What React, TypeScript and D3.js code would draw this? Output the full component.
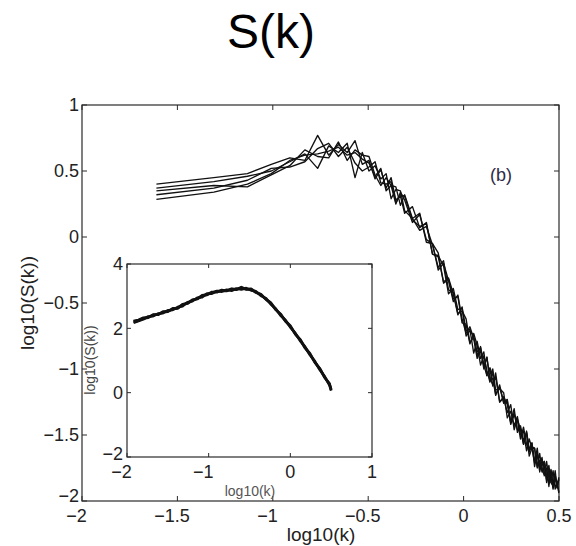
import React from "react";
import * as d3 from "d3";

// ---- main plot data: log10(k) positions and five curves of log10(S(k)) ----
const mainLogK = [
  -1.61, -1.309, -1.133, -1.008, -0.911, -0.832, -0.765, -0.707, -0.656, -0.61,
  -0.569, -0.531, -0.496, -0.464, -0.434, -0.406, -0.38, -0.355, -0.331, -0.309,
  -0.268, -0.23, -0.195, -0.163, -0.133, -0.105, -0.079, -0.054, -0.03, -0.008,
  0.013, 0.033, 0.053, 0.071, 0.089, 0.106, 0.122, 0.138, 0.153, 0.168,
  0.189, 0.21, 0.229, 0.247, 0.265, 0.282, 0.298, 0.314, 0.33, 0.344,
  0.358, 0.372, 0.386, 0.399, 0.411, 0.423, 0.435, 0.447, 0.458, 0.469,
  0.48, 0.49, 0.499,
];

const seriesA = [
  0.40, 0.45, 0.48, 0.55, 0.60, 0.58, 0.77, 0.62, 0.70, 0.64,
  0.73, 0.55, 0.58, 0.44, 0.51, 0.37, 0.45, 0.28, 0.31, 0.18,
  0.23, 0.07, 0.11, -0.13, -0.15, -0.34, -0.31, -0.43, -0.59, -0.53,
  -0.71, -0.70, -0.88, -0.79, -0.92, -0.87, -1.05, -1.00, -1.13, -1.03,
  -1.25, -1.22, -1.33, -1.27, -1.46, -1.38, -1.46, -1.57, -1.47, -1.61,
  -1.56, -1.74, -1.64, -1.73, -1.67, -1.81, -1.75, -1.89, -1.77, -1.88,
  -1.77, -1.90, -1.83,
];
const seriesB = [
  0.37, 0.42, 0.46, 0.50, 0.57, 0.63, 0.52, 0.69, 0.64, 0.71,
  0.45, 0.64, 0.50, 0.54, 0.44, 0.48, 0.29, 0.36, 0.35, 0.20,
  0.14, 0.18, -0.04, -0.05, -0.12, -0.35, -0.32, -0.47, -0.45, -0.65,
  -0.66, -0.81, -0.73, -0.82, -0.97, -0.90, -1.01, -1.10, -1.00, -1.16,
  -1.15, -1.18, -1.37, -1.32, -1.43, -1.36, -1.50, -1.47, -1.62, -1.53,
  -1.60, -1.71, -1.60, -1.76, -1.73, -1.70, -1.86, -1.77, -1.86, -1.77,
  -1.91, -1.85, -1.94,
];
const seriesC = [
  0.35, 0.39, 0.38, 0.47, 0.54, 0.66, 0.61, 0.60, 0.72, 0.58,
  0.66, 0.62, 0.61, 0.47, 0.39, 0.45, 0.39, 0.25, 0.34, 0.28,
  0.11, 0.17, -0.02, -0.05, -0.25, -0.20, -0.33, -0.49, -0.44, -0.62,
  -0.73, -0.68, -0.77, -0.92, -0.86, -0.98, -0.91, -1.09, -1.07, -1.20,
  -1.12, -1.26, -1.24, -1.41, -1.35, -1.39, -1.53, -1.44, -1.57, -1.63,
  -1.56, -1.69, -1.65, -1.78, -1.69, -1.74, -1.84, -1.73, -1.86, -1.89,
  -1.80, -1.89, -1.84,
];
const seriesD = [
  0.32, 0.37, 0.43, 0.52, 0.53, 0.57, 0.67, 0.71, 0.61, 0.68,
  0.56, 0.50, 0.53, 0.57, 0.41, 0.40, 0.42, 0.26, 0.32, 0.31,
  0.13, 0.08, 0.10, -0.13, -0.14, -0.22, -0.43, -0.39, -0.55, -0.54,
  -0.75, -0.71, -0.75, -0.90, -0.83, -0.97, -1.05, -0.99, -1.05, -1.19,
  -1.14, -1.25, -1.23, -1.42, -1.33, -1.46, -1.45, -1.57, -1.48, -1.62,
  -1.59, -1.60, -1.75, -1.69, -1.78, -1.70, -1.80, -1.86, -1.76, -1.90,
  -1.83, -1.86, -1.93,
];
const seriesE = [
  0.285, 0.34, 0.40, 0.48, 0.58, 0.62, 0.63, 0.65, 0.68, 0.62,
  0.64, 0.59, 0.56, 0.46, 0.52, 0.35, 0.39, 0.38, 0.24, 0.32,
  0.14, 0.05, 0.08, -0.06, -0.23, -0.18, -0.40, -0.42, -0.58, -0.56,
  -0.62, -0.80, -0.76, -0.87, -0.84, -1.00, -0.91, -1.07, -1.12, -1.06,
  -1.25, -1.21, -1.27, -1.40, -1.30, -1.48, -1.43, -1.54, -1.49, -1.66,
  -1.60, -1.60, -1.74, -1.64, -1.77, -1.80, -1.70, -1.83, -1.78, -1.91,
  -1.82, -1.90, -1.82,
];
const mainSeries = [seriesA, seriesB, seriesC, seriesD, seriesE];

const mainXTicks = [-2, -1.5, -1, -0.5, 0, 0.5];
const mainXTickLabels = ["−2", "−1.5", "−1", "−0.5", "0", "0.5"];
const mainYTicks = [-2, -1.5, -1, -0.5, 0, 0.5, 1];
const mainYTickLabels = ["−2", "−1.5", "−1", "−0.5", "0", "0.5", "1"];

// ---- inset data ----
const insetLogK = [
  -1.92, -1.86, -1.8, -1.74, -1.68, -1.62, -1.56, -1.5, -1.44, -1.38,
  -1.32, -1.26, -1.2, -1.14, -1.08, -1.02, -0.96, -0.9, -0.84, -0.78,
  -0.72, -0.66, -0.6, -0.54, -0.48, -0.42, -0.36, -0.3, -0.24, -0.18,
  -0.12, -0.06, 0.0, 0.06, 0.12, 0.18, 0.24, 0.3, 0.36, 0.42,
  0.48, 0.5,
];
const inset1 = [
  2.23, 2.26, 2.33, 2.34, 2.43, 2.42, 2.52, 2.53, 2.62, 2.63,
  2.75, 2.78, 2.89, 2.92, 3.03, 3.05, 3.13, 3.12, 3.19, 3.17,
  3.23, 3.21, 3.28, 3.22, 3.23, 3.12, 3.06, 2.91, 2.8, 2.59,
  2.45, 2.23, 2.08, 1.83, 1.66, 1.4, 1.22, 0.95, 0.76, 0.48,
  0.28, 0.08,
];
const inset2 = [
  2.17, 2.23, 2.28, 2.37, 2.38, 2.46, 2.47, 2.56, 2.57, 2.66,
  2.69, 2.81, 2.84, 2.95, 2.97, 3.08, 3.08, 3.16, 3.14, 3.2,
  3.17, 3.24, 3.21, 3.25, 3.18, 3.15, 3.01, 2.94, 2.75, 2.62,
  2.4, 2.26, 2.03, 1.86, 1.61, 1.43, 1.17, 0.98, 0.71, 0.51,
  0.23, 0.06,
];
const inset3 = [
  2.21, 2.24, 2.31, 2.33, 2.41, 2.44, 2.5, 2.52, 2.6, 2.62,
  2.73, 2.77, 2.87, 2.91, 3.01, 3.04, 3.11, 3.15, 3.17, 3.16,
  3.22, 3.2, 3.26, 3.21, 3.21, 3.11, 3.04, 2.9, 2.78, 2.58,
  2.43, 2.22, 2.06, 1.82, 1.64, 1.39, 1.2, 0.94, 0.74, 0.47,
  0.26, 0.1,
];
const insetSeries = [inset1, inset2, inset3];

const insetXTicks = [-2, -1, 0, 1];
const insetXTickLabels = ["−2", "−1", "0", "1"];
const insetYTicks = [-2, 0, 2, 4];
const insetYTickLabels = ["−2", "0", "2", "4"];

const FONT = "'Liberation Sans', Arial, Helvetica, sans-serif";

export default function App() {
  const W = 576;
  const H = 546;
  const M = { left: 82, right: 559, top: 105, bottom: 501 };
  const I = { left: 127, right: 372, top: 264, bottom: 457 };

  const x = d3.scaleLinear().domain([-2, 0.5]).range([M.left, M.right]);
  const y = d3.scaleLinear().domain([-2, 1]).range([M.bottom, M.top]);
  const ix = d3.scaleLinear().domain([-2, 1]).range([I.left, I.right]);
  const iy = d3.scaleLinear().domain([-2, 4]).range([I.bottom, I.top]);

  const mainLine = d3
    .line<number>()
    .x((_, i) => x(mainLogK[i]))
    .y((d) => y(d));
  const insetLine = d3
    .line<number>()
    .x((_, i) => ix(insetLogK[i]))
    .y((d) => iy(d));

  const axisColor = "#2a2a2a";
  const textColor = "#222";
  const tl = 5;

  return (
    <svg
      width={W}
      height={H}
      style={{ position: "absolute", left: 0, top: 0, background: "#fff" }}
      fontFamily={FONT}
    >
      <rect x={0} y={0} width={W} height={H} fill="#fff" />
      <text x={271} y={48} fontSize={48} textAnchor="middle" fill="#000">
        S(k)
      </text>

      {/* main frame */}
      <rect
        x={M.left}
        y={M.top}
        width={M.right - M.left}
        height={M.bottom - M.top}
        fill="none"
        stroke={axisColor}
        strokeWidth={1.2}
      />
      {mainXTicks.map((t, i) => (
        <g key={"mx" + i}>
          <line x1={x(t)} x2={x(t)} y1={M.bottom} y2={M.bottom - tl} stroke={axisColor} />
          <line x1={x(t)} x2={x(t)} y1={M.top} y2={M.top + tl} stroke={axisColor} />
          <text
            x={x(t)}
            y={522}
            dx={t < 0 ? "-0.3em" : 0}
            fontSize={18}
            textAnchor="middle"
            fill={textColor}
          >
            {mainXTickLabels[i]}
          </text>
        </g>
      ))}
      {mainYTicks.map((t, i) => (
        <g key={"my" + i}>
          <line x1={M.left} x2={M.left + tl} y1={y(t)} y2={y(t)} stroke={axisColor} />
          <line x1={M.right} x2={M.right - tl} y1={y(t)} y2={y(t)} stroke={axisColor} />
          <text
            x={M.left - 3}
            y={y(t) - (t === -2 ? 5 : 0)}
            dy="0.35em"
            fontSize={18}
            textAnchor="end"
            fill={textColor}
          >
            {mainYTickLabels[i]}
          </text>
        </g>
      ))}
      <text x={321} y={541} fontSize={19} textAnchor="middle" fill={textColor}>
        log10(k)
      </text>
      <text
        transform={`translate(34,303) rotate(-90)`}
        fontSize={19}
        textAnchor="middle"
        fill={textColor}
      >
        log10(S(k))
      </text>
      <text x={490} y={181} fontSize={18} fill="#2e2a48">
        (b)
      </text>

      {mainSeries.map((s, i) => (
        <path
          key={"ms" + i}
          d={mainLine(s) || ""}
          fill="none"
          stroke="#111"
          strokeWidth={1.35}
          strokeLinejoin="round"
        />
      ))}

      {/* inset */}
      <rect
        x={I.left}
        y={I.top}
        width={I.right - I.left}
        height={I.bottom - I.top}
        fill="#fff"
        stroke={axisColor}
        strokeWidth={1.2}
      />
      {insetXTicks.map((t, i) => (
        <g key={"ix" + i}>
          <line x1={ix(t)} x2={ix(t)} y1={I.bottom} y2={I.bottom - 4} stroke={axisColor} />
          <line x1={ix(t)} x2={ix(t)} y1={I.top} y2={I.top + 4} stroke={axisColor} />
          <text
            x={ix(t)}
            y={478}
            dx={t < 0 ? "-0.3em" : 0}
            fontSize={18}
            textAnchor="middle"
            fill={textColor}
          >
            {insetXTickLabels[i]}
          </text>
        </g>
      ))}
      {insetYTicks.map((t, i) => (
        <g key={"iy" + i}>
          <line x1={I.left} x2={I.left + 4} y1={iy(t)} y2={iy(t)} stroke={axisColor} />
          <line x1={I.right} x2={I.right - 4} y1={iy(t)} y2={iy(t)} stroke={axisColor} />
          <text
            x={I.left - 4}
            y={iy(t) - (t === -2 ? 3 : 0)}
            dy="0.35em"
            fontSize={18}
            textAnchor="end"
            fill={textColor}
          >
            {insetYTickLabels[i]}
          </text>
        </g>
      ))}
      <text x={250} y={496} fontSize={14} textAnchor="middle" fill="#555">
        log10(k)
      </text>
      <text
        transform={`translate(95,360) rotate(-90)`}
        fontSize={14}
        textAnchor="middle"
        fill="#444"
      >
        log10(S(k))
      </text>
      {insetSeries.map((s, i) => (
        <path
          key={"is" + i}
          d={insetLine(s) || ""}
          fill="none"
          stroke="#111"
          strokeWidth={2.6}
          strokeLinejoin="round"
        />
      ))}
    </svg>
  );
}
